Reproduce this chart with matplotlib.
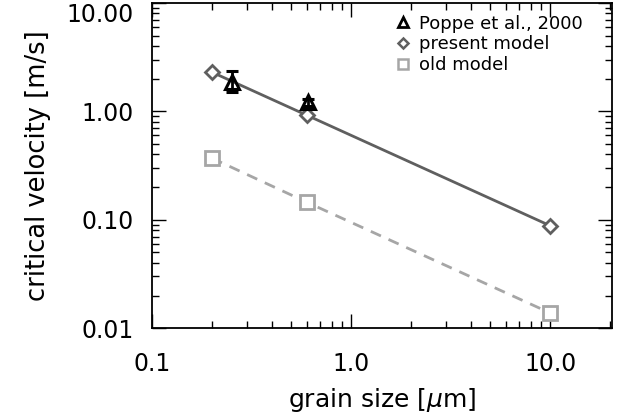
"""Critical velocity vs grain size: present model, old model and Poppe et al. 2000."""

import matplotlib

matplotlib.use("Agg")
import matplotlib.pyplot as plt
import matplotlib.transforms as mtransforms
from matplotlib.lines import Line2D
from matplotlib.ticker import FixedLocator, LogLocator, NullFormatter

plt.rcParams["font.family"] = ["DejaVu Sans"]
plt.rcParams["mathtext.fontset"] = "dejavusans"

# grain size [um] and critical velocity [m/s]
present_size = [0.2, 0.6, 10.0]
present_vel = [2.3, 0.92, 0.088]

old_size = [0.2, 0.6, 10.0]
old_vel = [0.37, 0.145, 0.0138]

poppe_size = [0.253, 0.607]
poppe_vel = [1.85, 1.21]
poppe_err_lo = [0.35, 0.08]
poppe_err_hi = [0.50, 0.10]

x_ticks = [0.1, 1.0, 10.0]
x_labels = ["0.1", "1.0", "10.0"]
y_ticks = [0.01, 0.1, 1.0, 10.0]
y_labels = ["0.01", "0.10", "1.00", "10.00"]

dark = "#5f5f5f"
light = "#a6a6a6"

fig = plt.figure(figsize=(6.2, 4.17), dpi=100)
ax = fig.add_axes([0.245, 0.213, 0.742, 0.780])

ax.plot(present_size, present_vel, color=dark, lw=2.0, marker="D", ms=7,
        mfc="white", mec=dark, mew=2.0)
ax.plot(old_size, old_vel, color=light, lw=2.0, ls=(0, (4, 3)), marker="s", ms=10,
        mfc="white", mec=light, mew=2.0)
ax.errorbar(poppe_size, poppe_vel, yerr=[poppe_err_lo, poppe_err_hi], fmt="^",
            color="black", ms=10, mfc="none", mew=2.2, elinewidth=2.0,
            capsize=4, capthick=2.0)

ax.set_xscale("log")
ax.set_yscale("log")
ax.set_xlim(0.1, 20.4)
ax.set_ylim(0.01, 10.0)

ax.xaxis.set_major_locator(FixedLocator(x_ticks))
ax.set_xticklabels(x_labels)
ax.yaxis.set_major_locator(FixedLocator(y_ticks))
ax.set_yticklabels(y_labels)
for axis in (ax.xaxis, ax.yaxis):
    axis.set_minor_locator(LogLocator(base=10, subs=range(2, 10)))
    axis.set_minor_formatter(NullFormatter())

ax.tick_params(which="both", direction="in", top=True, right=True, width=1.0,
               labelsize=17, colors="black")
ax.tick_params(axis="y", which="major", length=10, pad=13)
ax.tick_params(axis="x", which="major", length=10, pad=17)
ax.tick_params(which="minor", length=5)
for spine in ax.spines.values():
    spine.set_linewidth(1.3)

# the top y label sits a bit lower so it stays inside the figure
top_label = ax.get_yticklabels()[-1]
top_label.set_transform(top_label.get_transform()
                        + mtransforms.ScaledTranslation(0, -10 / 100, fig.dpi_scale_trans))

ax.set_xlabel(r"grain size [$\mu$m]", fontsize=18, labelpad=7)
ax.set_ylabel("critical velocity [m/s]", fontsize=18.5, labelpad=11)

handles = [
    Line2D([], [], ls="none", marker="^", ms=7, mfc="none", mec="black", mew=2.0),
    Line2D([], [], ls="none", marker="D", ms=5, mfc="white", mec=dark, mew=1.8),
    Line2D([], [], ls="none", marker="s", ms=7, mfc="white", mec=light, mew=1.8),
]
ax.legend(handles, ["Poppe et al., 2000", "present model", "old model"],
          loc="upper right", bbox_to_anchor=(0.972, 1.014), frameon=False,
          fontsize=13, handlelength=1.0, handletextpad=0.4, labelspacing=0.15)

fig.savefig("out.png", dpi=100)
